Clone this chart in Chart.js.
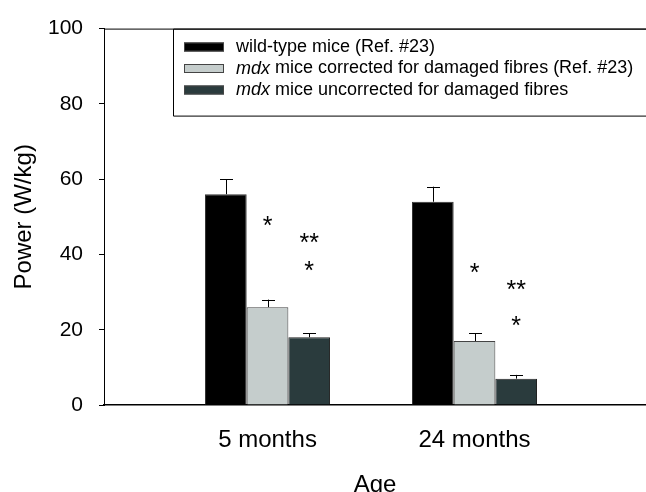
<!DOCTYPE html>
<html>
<head>
<meta charset="utf-8">
<script src="https://cdn.jsdelivr.net/npm/chart.js@4/dist/chart.umd.min.js"></script>
<style>
  body { margin: 0; background: #fff; }
  canvas { display: block; }
</style>
</head>
<body>
<canvas id="powerChart" width="646" height="492"></canvas>
<script>
// data
const categories = ['5 months', '24 months'];
const seriesNames = [
    ['', 'wild-type mice (Ref. #23)'],
    ['mdx', ' mice corrected for damaged fibres (Ref. #23)'],
    ['mdx', ' mice uncorrected for damaged fibres']
];
const wildType = [56, 54];
const mdxCorrected = [26, 17];
const mdxUncorrected = [18, 7];
const wildTypeErr = [4, 4];
const mdxCorrectedErr = [2, 2];
const mdxUncorrectedErr = [1, 1];
const yTicks = [0, 20, 40, 60, 80, 100];
// significance marks: [dataset, category, y value, text]
const stars = [
    [1, 0, 48, '*'], [2, 0, 43.5, '**'], [2, 0, 36, '*'],
    [1, 1, 35.5, '*'], [2, 1, 31, '**'], [2, 1, 21.5, '*']
];

const fontName = "'Liberation Sans', Arial, sans-serif";
const colors = ['#000000', '#c5cdcc', '#2a3b3d'];
const errors = [wildTypeErr, mdxCorrectedErr, mdxUncorrectedErr];

function toPoints(vals) {
    return vals.map((v, i) => ({ x: i + 1, y: v }));
}

const extras = {
    id: 'extras',
    afterDatasetsDraw(chart) {
        const ctx = chart.ctx;
        const area = chart.chartArea;
        const y = chart.scales.y;
        ctx.save();
        // top frame line
        ctx.strokeStyle = '#000';
        ctx.lineWidth = 1;
        ctx.beginPath();
        ctx.moveTo(area.left, area.top + 0.5);
        ctx.lineTo(area.right, area.top + 0.5);
        ctx.stroke();

        // error bars (upper only)
        chart.data.datasets.forEach((ds, d) => {
            const meta = chart.getDatasetMeta(d);
            meta.data.forEach((bar, i) => {
                const top = y.getPixelForValue(ds.data[i].y + errors[d][i]);
                const x = Math.round(bar.x) + 0.5;
                ctx.beginPath();
                ctx.moveTo(x, bar.y);
                ctx.lineTo(x, top);
                ctx.moveTo(x - 6.5, Math.round(top) + 0.5);
                ctx.lineTo(x + 6.5, Math.round(top) + 0.5);
                ctx.stroke();
            });
        });

        // asterisks
        ctx.fillStyle = '#000';
        ctx.font = '25px ' + fontName;
        ctx.textAlign = 'center';
        ctx.textBaseline = 'middle';
        stars.forEach(s => {
            const bar = chart.getDatasetMeta(s[0]).data[s[1]];
            ctx.fillText(s[3], bar.x, y.getPixelForValue(s[2]) + 3);
        });

        // legend box
        ctx.beginPath();
        ctx.rect(173.5, area.top + 0.5, 500, 87);
        ctx.stroke();
        const rows = [47, 68.5, 90];
        seriesNames.forEach((parts, d) => {
            const ry = rows[d];
            ctx.fillStyle = colors[d];
            ctx.fillRect(184, ry - 4.5, 40, 9);
            ctx.strokeStyle = '#444';
            ctx.strokeRect(184.5, ry - 4, 39, 8);
            ctx.fillStyle = '#000';
            ctx.textAlign = 'left';
            let tx = 236;
            if (parts[0]) {
                ctx.font = 'italic 18px ' + fontName;
                ctx.fillText(parts[0], tx, ry);
                tx += ctx.measureText(parts[0]).width;
            }
            ctx.font = '18px ' + fontName;
            ctx.fillText(parts[1], tx, ry);
        });
        ctx.restore();
    }
};

new Chart(document.getElementById('powerChart'), {
    type: 'bar',
    data: {
        datasets: [
            { label: seriesNames[0].join(''), data: toPoints(wildType), backgroundColor: colors[0], borderColor: '#333', borderWidth: 1 },
            { label: seriesNames[1].join(''), data: toPoints(mdxCorrected), backgroundColor: colors[1], borderColor: '#444', borderWidth: 1 },
            { label: seriesNames[2].join(''), data: toPoints(mdxUncorrected), backgroundColor: colors[2], borderColor: '#222', borderWidth: 1 }
        ]
    },
    options: {
        responsive: false,
        animation: false,
        categoryPercentage: 0.604,
        barPercentage: 1,
        layout: { padding: { top: 25, left: 0, right: 0, bottom: 0 } },
        plugins: { legend: { display: false }, tooltip: { enabled: false } },
        scales: {
            x: {
                type: 'linear',
                offset: false,
                bounds: 'data',
                min: 0.21,
                max: 2.8285,
                afterFit: s => { s.height = 87; },
                afterBuildTicks: s => { s.ticks = categories.map((c, i) => ({ value: i + 1 })); },
                grid: { display: false, offset: false },
                border: { display: true, color: '#000', width: 1.5 },
                ticks: {
                    color: '#000',
                    font: { family: fontName, size: 24 },
                    padding: 13,
                    maxRotation: 0,
                    callback: (v) => categories[v - 1]
                },
                title: {
                    display: true,
                    text: 'Age',
                    color: '#000',
                    font: { family: fontName, size: 24 },
                    padding: { top: 0, bottom: -8 }
                }
            },
            y: {
                min: 0,
                max: 100,
                afterFit: s => { s.width = 104; },
                afterBuildTicks: s => { s.ticks = yTicks.map(v => ({ value: v })); },
                grid: { drawOnChartArea: false, drawTicks: true, tickLength: 5, color: '#000' },
                border: { display: true, color: '#000', width: 1 },
                ticks: {
                    color: '#000',
                    font: { family: fontName, size: 21 },
                    padding: 16
                },
                title: {
                    display: true,
                    text: 'Power (W/kg)',
                    color: '#000',
                    font: { family: fontName, size: 24 },
                    padding: { top: 10, bottom: 0 }
                }
            }
        }
    },
    plugins: [extras]
});
</script>
</body>
</html>
